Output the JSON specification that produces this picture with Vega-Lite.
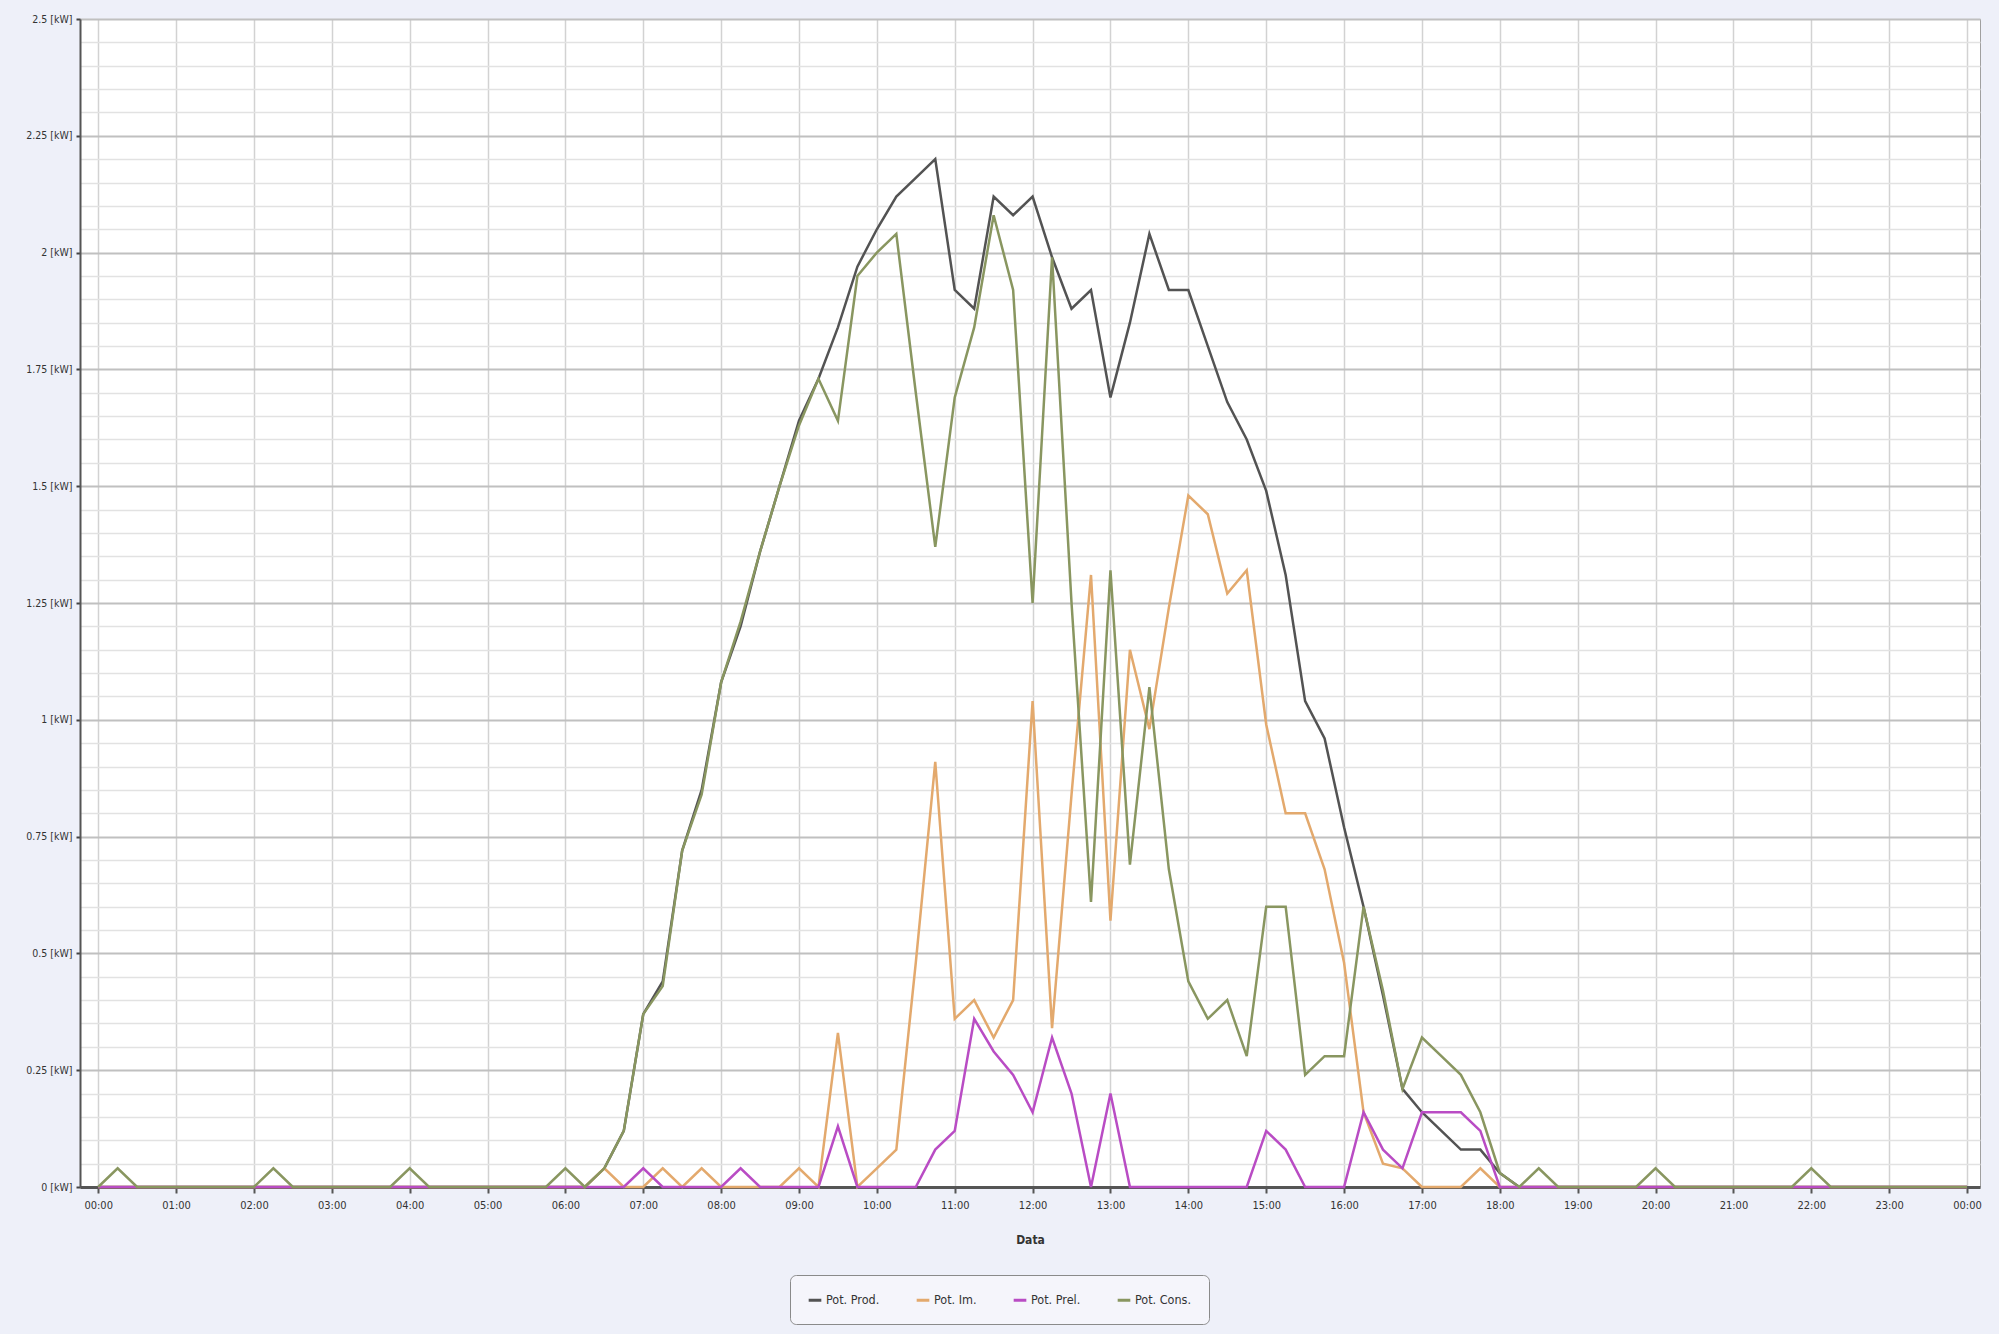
{
  "$schema": "https://vega.github.io/schema/vega-lite/v6.json",
  "autosize": {"type": "none"},
  "padding": {"left": 80, "top": 19, "right": 19, "bottom": 147},
  "width": 1900,
  "height": 1168,
  "background": "#eef0f9",
  "view": {"fill": "#ffffff", "stroke": "#a0a0a0", "strokeWidth": 1},
  "config": {"font": "Liberation Sans Narrow, DejaVu Sans Condensed, Liberation Sans, sans-serif"},
  "data": {"values": [
    {"t": "2024-01-01T00:00", "prod": 0, "im": 0, "prel": 0, "cons": 0},
    {"t": "2024-01-01T00:15", "prod": 0, "im": 0, "prel": 0, "cons": 0.04},
    {"t": "2024-01-01T00:30", "prod": 0, "im": 0, "prel": 0, "cons": 0},
    {"t": "2024-01-01T00:45", "prod": 0, "im": 0, "prel": 0, "cons": 0},
    {"t": "2024-01-01T01:00", "prod": 0, "im": 0, "prel": 0, "cons": 0},
    {"t": "2024-01-01T01:15", "prod": 0, "im": 0, "prel": 0, "cons": 0},
    {"t": "2024-01-01T01:30", "prod": 0, "im": 0, "prel": 0, "cons": 0},
    {"t": "2024-01-01T01:45", "prod": 0, "im": 0, "prel": 0, "cons": 0},
    {"t": "2024-01-01T02:00", "prod": 0, "im": 0, "prel": 0, "cons": 0},
    {"t": "2024-01-01T02:15", "prod": 0, "im": 0, "prel": 0, "cons": 0.04},
    {"t": "2024-01-01T02:30", "prod": 0, "im": 0, "prel": 0, "cons": 0},
    {"t": "2024-01-01T02:45", "prod": 0, "im": 0, "prel": 0, "cons": 0},
    {"t": "2024-01-01T03:00", "prod": 0, "im": 0, "prel": 0, "cons": 0},
    {"t": "2024-01-01T03:15", "prod": 0, "im": 0, "prel": 0, "cons": 0},
    {"t": "2024-01-01T03:30", "prod": 0, "im": 0, "prel": 0, "cons": 0},
    {"t": "2024-01-01T03:45", "prod": 0, "im": 0, "prel": 0, "cons": 0},
    {"t": "2024-01-01T04:00", "prod": 0, "im": 0, "prel": 0, "cons": 0.04},
    {"t": "2024-01-01T04:15", "prod": 0, "im": 0, "prel": 0, "cons": 0},
    {"t": "2024-01-01T04:30", "prod": 0, "im": 0, "prel": 0, "cons": 0},
    {"t": "2024-01-01T04:45", "prod": 0, "im": 0, "prel": 0, "cons": 0},
    {"t": "2024-01-01T05:00", "prod": 0, "im": 0, "prel": 0, "cons": 0},
    {"t": "2024-01-01T05:15", "prod": 0, "im": 0, "prel": 0, "cons": 0},
    {"t": "2024-01-01T05:30", "prod": 0, "im": 0, "prel": 0, "cons": 0},
    {"t": "2024-01-01T05:45", "prod": 0, "im": 0, "prel": 0, "cons": 0},
    {"t": "2024-01-01T06:00", "prod": 0, "im": 0, "prel": 0, "cons": 0.04},
    {"t": "2024-01-01T06:15", "prod": 0, "im": 0, "prel": 0, "cons": 0},
    {"t": "2024-01-01T06:30", "prod": 0.04, "im": 0.04, "prel": 0, "cons": 0.04},
    {"t": "2024-01-01T06:45", "prod": 0.12, "im": 0, "prel": 0, "cons": 0.12},
    {"t": "2024-01-01T07:00", "prod": 0.37, "im": 0, "prel": 0.04, "cons": 0.37},
    {"t": "2024-01-01T07:15", "prod": 0.44, "im": 0.04, "prel": 0, "cons": 0.43},
    {"t": "2024-01-01T07:30", "prod": 0.72, "im": 0, "prel": 0, "cons": 0.72},
    {"t": "2024-01-01T07:45", "prod": 0.85, "im": 0.04, "prel": 0, "cons": 0.84},
    {"t": "2024-01-01T08:00", "prod": 1.08, "im": 0, "prel": 0, "cons": 1.08},
    {"t": "2024-01-01T08:15", "prod": 1.2, "im": 0, "prel": 0.04, "cons": 1.21},
    {"t": "2024-01-01T08:30", "prod": 1.36, "im": 0, "prel": 0, "cons": 1.36},
    {"t": "2024-01-01T08:45", "prod": 1.5, "im": 0, "prel": 0, "cons": 1.5},
    {"t": "2024-01-01T09:00", "prod": 1.64, "im": 0.04, "prel": 0, "cons": 1.63},
    {"t": "2024-01-01T09:15", "prod": 1.73, "im": 0, "prel": 0, "cons": 1.73},
    {"t": "2024-01-01T09:30", "prod": 1.84, "im": 0.33, "prel": 0.13, "cons": 1.64},
    {"t": "2024-01-01T09:45", "prod": 1.97, "im": 0, "prel": 0, "cons": 1.95},
    {"t": "2024-01-01T10:00", "prod": 2.05, "im": 0.04, "prel": 0, "cons": 2.0},
    {"t": "2024-01-01T10:15", "prod": 2.12, "im": 0.08, "prel": 0, "cons": 2.04},
    {"t": "2024-01-01T10:30", "prod": 2.16, "im": 0.48, "prel": 0, "cons": 1.7},
    {"t": "2024-01-01T10:45", "prod": 2.2, "im": 0.91, "prel": 0.08, "cons": 1.37},
    {"t": "2024-01-01T11:00", "prod": 1.92, "im": 0.36, "prel": 0.12, "cons": 1.69},
    {"t": "2024-01-01T11:15", "prod": 1.88, "im": 0.4, "prel": 0.36, "cons": 1.84},
    {"t": "2024-01-01T11:30", "prod": 2.12, "im": 0.32, "prel": 0.29, "cons": 2.08},
    {"t": "2024-01-01T11:45", "prod": 2.08, "im": 0.4, "prel": 0.24, "cons": 1.92},
    {"t": "2024-01-01T12:00", "prod": 2.12, "im": 1.04, "prel": 0.16, "cons": 1.25},
    {"t": "2024-01-01T12:15", "prod": 1.99, "im": 0.34, "prel": 0.32, "cons": 1.99},
    {"t": "2024-01-01T12:30", "prod": 1.88, "im": 0.84, "prel": 0.2, "cons": 1.25},
    {"t": "2024-01-01T12:45", "prod": 1.92, "im": 1.31, "prel": 0, "cons": 0.61},
    {"t": "2024-01-01T13:00", "prod": 1.69, "im": 0.57, "prel": 0.2, "cons": 1.32},
    {"t": "2024-01-01T13:15", "prod": 1.85, "im": 1.15, "prel": 0, "cons": 0.69},
    {"t": "2024-01-01T13:30", "prod": 2.04, "im": 0.98, "prel": 0, "cons": 1.07},
    {"t": "2024-01-01T13:45", "prod": 1.92, "im": 1.24, "prel": 0, "cons": 0.68},
    {"t": "2024-01-01T14:00", "prod": 1.92, "im": 1.48, "prel": 0, "cons": 0.44},
    {"t": "2024-01-01T14:15", "prod": 1.8, "im": 1.44, "prel": 0, "cons": 0.36},
    {"t": "2024-01-01T14:30", "prod": 1.68, "im": 1.27, "prel": 0, "cons": 0.4},
    {"t": "2024-01-01T14:45", "prod": 1.6, "im": 1.32, "prel": 0, "cons": 0.28},
    {"t": "2024-01-01T15:00", "prod": 1.49, "im": 0.99, "prel": 0.12, "cons": 0.6},
    {"t": "2024-01-01T15:15", "prod": 1.31, "im": 0.8, "prel": 0.08, "cons": 0.6},
    {"t": "2024-01-01T15:30", "prod": 1.04, "im": 0.8, "prel": 0, "cons": 0.24},
    {"t": "2024-01-01T15:45", "prod": 0.96, "im": 0.68, "prel": 0, "cons": 0.28},
    {"t": "2024-01-01T16:00", "prod": 0.77, "im": 0.48, "prel": 0, "cons": 0.28},
    {"t": "2024-01-01T16:15", "prod": 0.6, "im": 0.16, "prel": 0.16, "cons": 0.6},
    {"t": "2024-01-01T16:30", "prod": 0.41, "im": 0.05, "prel": 0.08, "cons": 0.42},
    {"t": "2024-01-01T16:45", "prod": 0.21, "im": 0.04, "prel": 0.04, "cons": 0.21},
    {"t": "2024-01-01T17:00", "prod": 0.16, "im": 0, "prel": 0.16, "cons": 0.32},
    {"t": "2024-01-01T17:15", "prod": 0.12, "im": 0, "prel": 0.16, "cons": 0.28},
    {"t": "2024-01-01T17:30", "prod": 0.08, "im": 0, "prel": 0.16, "cons": 0.24},
    {"t": "2024-01-01T17:45", "prod": 0.08, "im": 0.04, "prel": 0.12, "cons": 0.16},
    {"t": "2024-01-01T18:00", "prod": 0.03, "im": 0, "prel": 0, "cons": 0.03},
    {"t": "2024-01-01T18:15", "prod": 0, "im": 0, "prel": 0, "cons": 0},
    {"t": "2024-01-01T18:30", "prod": 0, "im": 0, "prel": 0, "cons": 0.04},
    {"t": "2024-01-01T18:45", "prod": 0, "im": 0, "prel": 0, "cons": 0},
    {"t": "2024-01-01T19:00", "prod": 0, "im": 0, "prel": 0, "cons": 0},
    {"t": "2024-01-01T19:15", "prod": 0, "im": 0, "prel": 0, "cons": 0},
    {"t": "2024-01-01T19:30", "prod": 0, "im": 0, "prel": 0, "cons": 0},
    {"t": "2024-01-01T19:45", "prod": 0, "im": 0, "prel": 0, "cons": 0},
    {"t": "2024-01-01T20:00", "prod": 0, "im": 0, "prel": 0, "cons": 0.04},
    {"t": "2024-01-01T20:15", "prod": 0, "im": 0, "prel": 0, "cons": 0},
    {"t": "2024-01-01T20:30", "prod": 0, "im": 0, "prel": 0, "cons": 0},
    {"t": "2024-01-01T20:45", "prod": 0, "im": 0, "prel": 0, "cons": 0},
    {"t": "2024-01-01T21:00", "prod": 0, "im": 0, "prel": 0, "cons": 0},
    {"t": "2024-01-01T21:15", "prod": 0, "im": 0, "prel": 0, "cons": 0},
    {"t": "2024-01-01T21:30", "prod": 0, "im": 0, "prel": 0, "cons": 0},
    {"t": "2024-01-01T21:45", "prod": 0, "im": 0, "prel": 0, "cons": 0},
    {"t": "2024-01-01T22:00", "prod": 0, "im": 0, "prel": 0, "cons": 0.04},
    {"t": "2024-01-01T22:15", "prod": 0, "im": 0, "prel": 0, "cons": 0},
    {"t": "2024-01-01T22:30", "prod": 0, "im": 0, "prel": 0, "cons": 0},
    {"t": "2024-01-01T22:45", "prod": 0, "im": 0, "prel": 0, "cons": 0},
    {"t": "2024-01-01T23:00", "prod": 0, "im": 0, "prel": 0, "cons": 0},
    {"t": "2024-01-01T23:15", "prod": 0, "im": 0, "prel": 0, "cons": 0},
    {"t": "2024-01-01T23:30", "prod": 0, "im": 0, "prel": 0, "cons": 0},
    {"t": "2024-01-01T23:45", "prod": 0, "im": 0, "prel": 0, "cons": 0},
    {"t": "2024-01-02T00:00", "prod": 0, "im": 0, "prel": 0, "cons": 0}
  ]},
  "transform": [{"fold": ["prod", "im", "prel", "cons"], "as": ["serie", "kw"]}],
  "layer": [
    {
      "mark": {"type": "line", "opacity": 0},
      "encoding": {
        "x": {"field": "t", "type": "temporal"},
        "y": {
          "field": "kw",
          "type": "quantitative",
          "scale": {"domain": [0, 2.5], "nice": false},
          "axis": {
            "orient": "left",
            "title": null,
            "values": [0.05, 0.1, 0.15, 0.2, 0.3, 0.35, 0.4, 0.45, 0.55, 0.6, 0.65, 0.7, 0.8, 0.85, 0.9, 0.95, 1.05, 1.1, 1.15, 1.2, 1.3, 1.35, 1.4, 1.45, 1.55, 1.6, 1.65, 1.7, 1.8, 1.85, 1.9, 1.95, 2.05, 2.1, 2.15, 2.2, 2.3, 2.35, 2.4, 2.45],
            "grid": true,
            "gridColor": "#e2e2e2",
            "gridWidth": 1.5,
            "labels": false,
            "ticks": false,
            "domain": false
          }
        },
        "detail": {"field": "serie", "type": "nominal"}
      }
    },
    {
      "mark": {"type": "line", "strokeWidth": 2.5, "interpolate": "linear"},
      "encoding": {
        "x": {
          "field": "t",
          "type": "temporal",
          "scale": {"domain": ["2023-12-31T23:46", "2024-01-02T00:10"]},
          "axis": {
            "title": "Data",
            "format": "%H:%M",
            "tickCount": 25,
            "grid": true,
            "gridColor": "#d2d2d2",
            "gridWidth": 1.5,
            "domainColor": "#555555",
            "domainWidth": 3,
            "tickColor": "#555555",
            "tickSize": 6,
            "tickWidth": 2,
            "labelFontSize": 11,
            "labelColor": "#333333",
            "labelPadding": 6,
            "labelFlush": false,
            "labelOverlap": false,
            "titleFontSize": 12,
            "titleFontWeight": "bold",
            "titleColor": "#333333",
            "titlePadding": 24
          }
        },
        "y": {
          "field": "kw",
          "type": "quantitative",
          "scale": {"domain": [0, 2.5], "nice": false},
          "axis": {
            "orient": "left",
            "title": null,
            "values": [0, 0.25, 0.5, 0.75, 1, 1.25, 1.5, 1.75, 2, 2.25, 2.5],
            "labelExpr": "datum.value + ' [kW]'",
            "grid": true,
            "gridColor": "#c0c0c0",
            "gridWidth": 2,
            "tickSize": 4,
            "tickWidth": 2,
            "tickColor": "#444444",
            "domainColor": "#555555",
            "domainWidth": 2,
            "labelFontSize": 10.5,
            "labelColor": "#333333",
            "labelPadding": 4
          }
        },
        "color": {
          "field": "serie",
          "type": "nominal",
          "scale": {"domain": ["prod", "im", "prel", "cons"], "range": ["#535353", "#e3a96d", "#b94cc4", "#899660"]},
          "legend": {
            "orient": "none",
            "legendX": 710,
            "legendY": 1256,
            "direction": "horizontal",
            "title": null,
            "symbolType": "stroke",
            "symbolStrokeWidth": 3,
            "symbolSize": 160,
            "labelFontSize": 12.5,
            "labelColor": "#333333",
            "labelOffset": 3,
            "columnPadding": 30,
            "padding": 17,
            "strokeColor": "#8a8a8a",
            "cornerRadius": 6,
            "fillColor": "#f5f5fb",
            "labelExpr": "datum.label == 'prod' ? 'Pot. Prod.' : datum.label == 'im' ? 'Pot. Im.' : datum.label == 'prel' ? 'Pot. Prel.' : 'Pot. Cons.'"
          }
        }
      }
    }
  ],
  "resolve": {"axis": {"y": "independent"}}
}
